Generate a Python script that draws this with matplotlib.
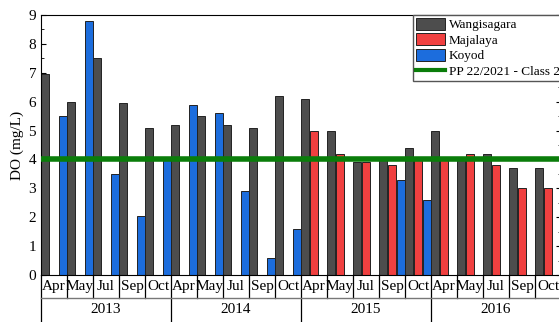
import numpy as np
import matplotlib
matplotlib.use("Agg")
import matplotlib.pyplot as plt
from matplotlib.lines import Line2D
from matplotlib.patches import Patch

plt.rcParams['font.family'] = ['Liberation Serif', 'DejaVu Serif']

years = ["2013", "2014", "2015", "2016"]
months = ["Apr", "May", "Jul", "Sep", "Oct"]
nan = np.nan

wangisagara = [6.95, 6.0, 7.5, 5.97, 5.08,
               5.2, 5.5, 5.2, 5.1, 6.2,
               6.1, 5.0, 3.9, 4.1, 4.4,
               5.0, 4.0, 4.2, 3.7, 3.7]
majalaya = [nan, nan, nan, nan, nan,
            nan, nan, nan, nan, nan,
            5.0, 4.2, 3.9, 3.8, 4.05,
            3.98, 4.2, 3.8, 3.0, 3.0]
koyod = [5.5, 8.8, 3.5, 2.05, 4.0,
         5.9, 5.6, 2.9, 0.6, 1.6,
         nan, nan, nan, 3.3, 2.6,
         nan, nan, nan, nan, nan]
standard = 4.0
series_names = ["Wangisagara", "Majalaya", "Koyod"]
std_label = "PP 22/2021 - Class 2"

colors = ["#4d4d4d", "#f04040", "#1c6ddd"]

W, H = 559, 322
fig = plt.figure(figsize=(W / 100, H / 100), dpi=100)
ax = fig.add_axes([41 / W, (H - 275) / H, (561 - 41) / W, (275 - 15) / H])

n = len(wangisagara)
x = np.arange(n)
bw = 1 / 3
for i, (vals, c) in enumerate(zip([wangisagara, majalaya, koyod], colors)):
    ax.bar(x + (i - 1) * bw, np.array(vals, dtype=float), width=bw * 0.92,
           color=c, edgecolor="#222222", linewidth=0.7, zorder=2)

ax.axhline(standard, color="#0a7d0a", linewidth=4, zorder=3)

ax.set_xlim(-0.5, n - 0.5)
ax.set_ylim(0, 9)
ax.set_yticks(range(0, 10))
ax.set_yticks(np.arange(0.5, 9, 1), minor=True)
ax.tick_params(axis='y', which='both', direction='in', right=True, labelsize=11)
ax.tick_params(axis='y', which='major', length=3.5)
ax.tick_params(axis='y', which='minor', length=2)
ax.set_xticks([])
ax.set_ylabel("DO (mg/L)", fontsize=11, labelpad=3)

# two-level category axis
trans = ax.get_xaxis_transform()
row1 = -(298 - 275) / 260
row2 = -(322 - 275) / 260
for k in range(n):
    ax.text(x[k], row1 / 2, months[k % len(months)], transform=trans,
            ha='center', va='center', fontsize=11, clip_on=False)
for b in range(n + 1):
    xb = b - 0.5
    if b % len(months) == 0:
        ax.add_line(Line2D([xb, xb], [0, row2], transform=trans, color='black',
                           linewidth=0.9, clip_on=False))
    else:
        ax.add_line(Line2D([xb, xb], [0, row1], transform=trans, color='black',
                           linewidth=0.9, clip_on=False))
ax.add_line(Line2D([-0.5, n - 0.5], [row1, row1], transform=trans, color='#777777',
                   linewidth=1.0, clip_on=False))
for j, yr in enumerate(years):
    xc = j * len(months) + (len(months) - 1) / 2
    ax.text(xc, (row1 + row2) / 2 + 0.002, yr, transform=trans, ha='center',
            va='center', fontsize=11, clip_on=False)

handles = [Patch(facecolor=c, edgecolor="#222222", linewidth=0.7) for c in colors]
handles.append(Line2D([0], [0], color="#0a7d0a", linewidth=3))
leg = fig.legend(handles, series_names + [std_label], loc='upper left',
                 bbox_to_anchor=(413 / W, (H - 15) / H), fontsize=9.5,
                 frameon=True, fancybox=False, framealpha=1, edgecolor='#555555',
                 borderpad=0.2, borderaxespad=0, handlelength=2.2, handleheight=1.05,
                 handletextpad=0.3, labelspacing=0.15)
leg.get_frame().set_linewidth(1.0)

fig.savefig("out.png", dpi=100)
